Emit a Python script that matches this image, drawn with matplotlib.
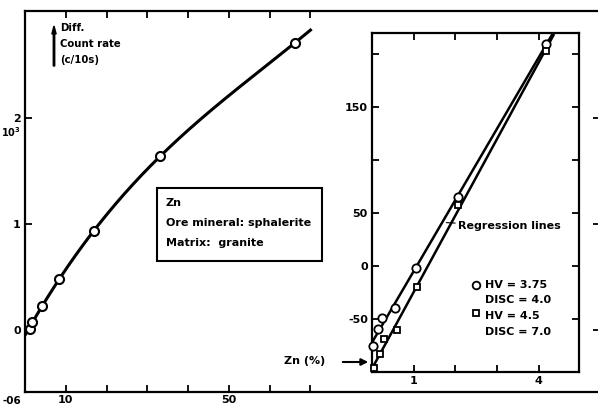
import numpy as np
import matplotlib
matplotlib.use("Agg")
import matplotlib.pyplot as plt
from matplotlib.patches import Rectangle

plt.rcParams['font.family'] = ['DejaVu Sans']
plt.rcParams['font.weight'] = 'bold'

# main calibration curve (x: Zn %, y: diff. count rate x10^3 c/10s)
zn_main = [1.2, 1.7, 4.2, 8.3, 16.9, 33.1, 66.2]
rate_main = [0.01, 0.08, 0.23, 0.48, 0.93, 1.64, 2.71]

# inset: low range, two settings
zn_hv375 = [0.02, 0.14, 0.24, 0.55, 1.06, 2.06, 4.17]
rate_hv375 = [-75, -59, -49, -40, -2, 65, 210]
zn_hv45 = [0.05, 0.19, 0.29, 0.60, 1.08, 2.06, 4.17]
rate_hv45 = [-96, -83, -69, -60, -20, 58, 203]

main_xticks = [10, 20, 30, 40, 50, 60, 70]
main_xlabels = ['10', '', '', '', '50', '', '']
main_yticks = [0, 1, 2]
inset_yticks = [-50, 0, 50, 100, 150, 200]
inset_ylabels = ['-50', '0', '50', '', '150', '']
inset_xticks = [1, 2, 3, 4]
inset_xlabels = ['1', '', '', '4']

W, H = 598, 407
fig = plt.figure(figsize=(W / 100, H / 100), dpi=100)

def px_box(x0, y0, x1, y1):
    return [x0 / W, 1 - y1 / H, (x1 - x0) / W, (y1 - y0) / H]

ax = fig.add_axes(px_box(25, 11, 600, 392))
ax.set_xlim(0, 141)
ax.set_ylim(-0.585, 3.01)
for s in ax.spines.values():
    s.set_linewidth(1.6)

# smooth calibration curve through the points
c = np.polyfit(zn_main, rate_main, 3)
xs = np.linspace(0.2, 70, 200)
ax.plot(xs, np.polyval(c, xs), color='black', lw=2.2, zorder=2)
ax.plot(zn_main, rate_main, 'o', mfc='white', mec='black', mew=1.5, ms=6.5, zorder=3)

ax.set_xticks(main_xticks)
ax.set_xticklabels(main_xlabels, fontsize=8, fontweight='bold')
ax.set_yticks(main_yticks)
ax.set_yticklabels(['0', '1', '2'], fontsize=8, fontweight='bold')
ax.tick_params(direction='in', length=5, width=1.3, top=True, right=True, pad=3)
ax.tick_params(axis='x', pad=2)

fig.text(11 / W, 1 - 132 / H, '10$^3$', fontsize=7, fontweight='bold', ha='center', va='center')
fig.text(12 / W, 1 - 401 / H, '-06', fontsize=7.5, fontweight='bold', ha='center', va='center')

# y axis label with arrow
fig.text(60 / W, 1 - 28 / H, 'Diff.', fontsize=7.3, fontweight='bold', ha='left', va='center')
fig.text(60 / W, 1 - 44 / H, 'Count rate', fontsize=7.3, fontweight='bold', ha='left', va='center')
fig.text(60 / W, 1 - 60 / H, '(c/10s)', fontsize=7.3, fontweight='bold', ha='left', va='center')
fig.patches.append(plt.Arrow(54 / W, 1 - 66 / H, 0, 40 / H, width=0.012,
                             transform=fig.transFigure, color='black', figure=fig))

# x axis label with arrow
fig.text(305 / W, 1 - 361 / H, 'Zn (%)', fontsize=8, fontweight='bold', ha='center', va='center')
ax.annotate('', xy=(371 / W, 1 - 362 / H), xytext=(340 / W, 1 - 362 / H),
            xycoords='figure fraction', textcoords='figure fraction',
            arrowprops=dict(arrowstyle='-|>', color='black', lw=1.5))

# info box
fig.patches.append(Rectangle((157 / W, 1 - 261 / H), 165 / W, 73 / H, fill=False,
                             lw=1.5, ec='black', transform=fig.transFigure, figure=fig))
fig.text(166 / W, 1 - 203 / H, 'Zn', fontsize=8, fontweight='bold', va='center')
fig.text(166 / W, 1 - 223 / H, 'Ore mineral: sphalerite', fontsize=8, fontweight='bold', va='center')
fig.text(166 / W, 1 - 243 / H, 'Matrix:  granite', fontsize=8, fontweight='bold', va='center')

# inset
ins = fig.add_axes(px_box(372, 33, 579, 372))
ins.set_xlim(0, 4.96)
ins.set_ylim(-100, 220)
for s in ins.spines.values():
    s.set_linewidth(1.6)

xl = np.array([0.0, 4.35])
for zx, ry in [(zn_hv375, rate_hv375), (zn_hv45, rate_hv45)]:
    k = np.polyfit(zx, ry, 1)
    ins.plot(xl, np.polyval(k, xl), color='black', lw=1.8, zorder=2)
ins.plot(zn_hv375, rate_hv375, 'o', mfc='white', mec='black', mew=1.3, ms=6, zorder=3, clip_on=False)
ins.plot(zn_hv45, rate_hv45, 's', mfc='white', mec='black', mew=1.3, ms=4.5, zorder=3, clip_on=False)

ins.set_xticks(inset_xticks)
ins.set_xticklabels(inset_xlabels, fontsize=8, fontweight='bold')
ins.set_yticks(inset_yticks)
ins.set_yticklabels(inset_ylabels, fontsize=8, fontweight='bold')
ins.tick_params(direction='in', length=5, width=1.3, top=True, right=True, pad=3)

ins.annotate('Regression lines', xy=(1.78, 41), xytext=(2.06, 38), fontsize=8, fontweight='bold',
             va='center', ha='left',
             arrowprops=dict(arrowstyle='-', color='black', lw=0.8, shrinkA=0, shrinkB=0))

ins.plot([2.5], [-18], 'o', mfc='white', mec='black', mew=1.3, ms=5.5)
ins.plot([2.5], [-44], 's', mfc='white', mec='black', mew=1.3, ms=4.5)
ins.text(2.7, -18, 'HV = 3.75', fontsize=8, fontweight='bold', va='center')
ins.text(2.7, -32, 'DISC = 4.0', fontsize=8, fontweight='bold', va='center')
ins.text(2.7, -47, 'HV = 4.5', fontsize=8, fontweight='bold', va='center')
ins.text(2.7, -62, 'DISC = 7.0', fontsize=8, fontweight='bold', va='center')

fig.savefig('out.png', dpi=100)
